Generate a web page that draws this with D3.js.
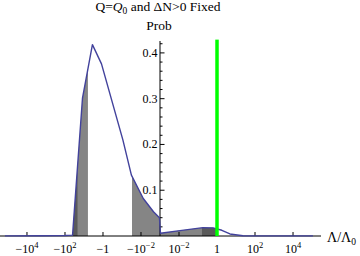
<!DOCTYPE html>
<html><head><meta charset="utf-8">
<script src="https://cdn.jsdelivr.net/npm/d3@7"></script>
<style>
html,body{margin:0;padding:0;background:#fff;}
svg{display:block;font-family:"Liberation Serif","Times New Roman",serif;}
</style></head>
<body><svg id="c" width="360" height="256"></svg>
<script>
// Λ/Λ0 (signed) and probability of the curve
const lambda = [-1.45e5, -2.1e3, -100, -40, -12, -3.6, -1.2, -0.09, -0.032, -7.6e-3, -2.2e-3, -1.07e-3,
                1.06e-3, 1.12e-2, 0.18, 0.62, 1.8, 4.8, 23, 1.12e5];
const prob = [0.0003, 0.0007, 0.001, 0.002, 0.301, 0.418, 0.376, 0.21, 0.133, 0.082, 0.053, 0.040,
              0.006, 0.0118, 0.0182, 0.0178, 0.0125, 0.0044, 0.0005, 0.0002];
// shaded intervals
const darkRegions = [[-40, -21], [0.15, 1]];
const midRegions = [[-21, -6.2], [-0.03, -1e-3], [1e-3, 0.15]];
// reference line
const markerLambda = 1;
// ticks
const xTickValues = [-1e4, -1e2, -1, -1e-2, 1e-2, 1, 1e2, 1e4];
const xTickBase = ["−10", "−10", "−1", "−10", "10", "1", "10", "10"];
const xTickExp = ["4", "2", "", "−2", "−2", "", "2", "4"];
const yMajorTicks = [0.1, 0.2, 0.3, 0.4];
const yMajorLabels = ["0.1", "0.2", "0.3", "0.4"];
const yMinorTicks = [0.02, 0.04, 0.06, 0.08, 0.12, 0.14, 0.16, 0.18, 0.22, 0.24, 0.26, 0.28, 0.32, 0.34, 0.36, 0.38, 0.42];

const svg = d3.select("#c");
const toU = v => Math.sign(v) * (Math.log10(Math.abs(v)) + 3);
const xs = d3.scaleLinear().domain([-8.42, 8.42]).range([0, 320]);
const X = v => xs(toU(v));
const y = d3.scaleLinear().domain([0, 0.426]).range([236, 41]);

const pts = lambda.map((l, i) => [l, prob[i]]);
const area = d3.area().x(d => X(d[0])).y0(y(0)).y1(d => y(d[1]));
const line = d3.line().x(d => X(d[0])).y(d => y(d[1]));

const defs = svg.append("defs");
function region(r, i, color, name) {
  const id = name + i;
  defs.append("clipPath").attr("id", id).append("rect")
    .attr("x", X(r[0])).attr("width", X(r[1]) - X(r[0]))
    .attr("y", 0).attr("height", 256);
  svg.append("path").datum(pts).attr("d", area).attr("fill", color).attr("clip-path", `url(#${id})`);
}
midRegions.forEach((r, i) => region(r, i, "#858585", "mid"));
darkRegions.forEach((r, i) => region(r, i, "#5a5a5a", "dark"));

// axes
svg.append("line").attr("x1", 0).attr("x2", 321).attr("y1", y(0)).attr("y2", y(0)).attr("stroke", "#000").attr("stroke-width", 1);
svg.append("line").attr("x1", xs(0)).attr("x2", xs(0)).attr("y1", y(0)).attr("y2", y(0.426)).attr("stroke", "#000").attr("stroke-width", 1);

svg.selectAll(".ymaj").data(yMajorTicks).enter().append("line")
  .attr("x1", xs(0)).attr("x2", xs(0) + 4.5).attr("y1", d => y(d)).attr("y2", d => y(d)).attr("stroke", "#000").attr("stroke-width", 1);
svg.selectAll(".ymin").data(yMinorTicks).enter().append("line")
  .attr("x1", xs(0)).attr("x2", xs(0) + 2.5).attr("y1", d => y(d)).attr("y2", d => y(d)).attr("stroke", "#000").attr("stroke-width", 1);
svg.selectAll(".xt").data(xTickValues).enter().append("line")
  .attr("x1", d => X(d)).attr("x2", d => X(d)).attr("y1", y(0)).attr("y2", y(0) - 4).attr("stroke", "#000").attr("stroke-width", 1);

// curve
svg.append("path").datum(pts).attr("d", line).attr("fill", "none").attr("stroke", "#42429c").attr("stroke-width", 1.4).attr("stroke-linejoin", "round");

// green marker
svg.append("line").attr("x1", X(markerLambda)).attr("x2", X(markerLambda))
  .attr("y1", y(0)).attr("y2", y(0.429)).attr("stroke", "#00ff00").attr("stroke-width", 3.5);

// y tick labels
svg.selectAll(".yl").data(yMajorTicks).enter().append("text")
  .attr("x", xs(0) - 2.5).attr("y", d => y(d) + 4).attr("text-anchor", "end").attr("font-size", 12)
  .text((d, i) => yMajorLabels[i]);

// x tick labels
xTickValues.forEach((v, i) => {
  const t = svg.append("text").attr("x", X(v)).attr("y", 252.5).attr("text-anchor", "middle").attr("font-size", 12);
  t.append("tspan").text(xTickBase[i]);
  if (xTickExp[i]) t.append("tspan").attr("dy", -5).attr("font-size", 8.5).text(xTickExp[i]);
});

// titles
const title = svg.append("text").attr("x", 158).attr("y", 10.5).attr("text-anchor", "middle").attr("font-size", 13.5);
title.append("tspan").text("Q=");
title.append("tspan").attr("font-style", "italic").text("Q");
title.append("tspan").attr("font-size", 9.5).attr("dy", 3).text("0");
title.append("tspan").attr("dy", -3).text(" and ΔN>0 Fixed");
svg.append("text").attr("x", 159).attr("y", 29.5).attr("text-anchor", "middle").attr("font-size", 13.5).text("Prob");

const xl = svg.append("text").attr("x", 327).attr("y", 241.5).attr("font-size", 14);
xl.append("tspan").text("Λ/Λ");
xl.append("tspan").attr("font-size", 9.5).attr("dy", 3).text("0");
</script></body></html>
